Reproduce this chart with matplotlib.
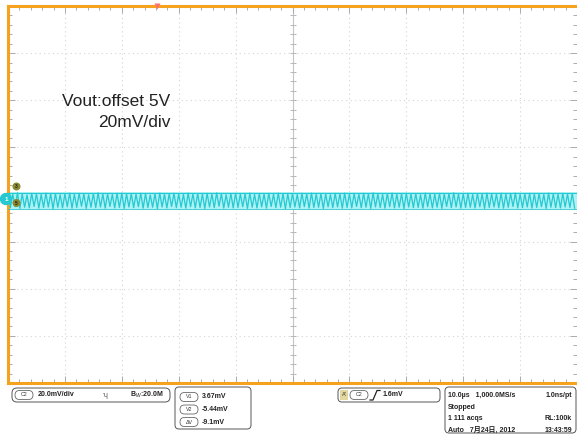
import numpy as np
import matplotlib
matplotlib.use("Agg")
import matplotlib.pyplot as plt
from matplotlib.patches import FancyBboxPatch, Rectangle, Circle

plt.rcParams['font.family'] = ['Liberation Sans', 'Noto Sans CJK SC', 'DejaVu Sans']

# screen: 10 div x 10 us, 8 div x 20 mV
t_span = 100.0
v_half = 80.0
trig_pos = 26.2

# ripple peaks / troughs per cycle (mV)
highs = [
    0.4, 0.1, 0.7, 0.2, -0.2, 0.5, 0.3, 0.0, 0.6, 0.2, 0.4, -0.1,
    0.3, 0.6, 0.1, 0.5, 0.2, -0.1, 0.4, 0.7, 0.2, 0.3, 0.0, 0.5,
    0.6, 0.2, 0.4, 0.1, 0.5, 0.3, -0.2, 0.4, 0.6, 0.1, 0.3, 0.5,
    0.2, 0.0, 0.6, 0.3, 0.4, 0.1, 0.5, 0.2, 0.7, 0.3, -0.1, 0.4,
    0.5, 0.2, 0.3, 0.6, 0.0, 0.4, 0.2, 0.5, 0.1, 0.6, 0.3, 0.2,
    0.4, 0.0, 0.5, 0.3, 0.6, 0.1, 0.4, 0.2, -0.1, 0.5, 0.3, 0.6,
    0.2, 0.4, 0.1, 0.5, 0.3, 0.7, 0.2, 0.0, 0.4, 0.6, 0.1, 0.3,
    0.5, 0.2, 0.4, -0.1, 0.6, 0.3, 0.1, 0.5, 0.2, 0.4, 0.7, 0.2,
    0.3, 0.5, 0.0, 0.4, 0.2, 0.6, 0.3, 0.1, 0.5, 0.2, 0.4, 0.6,
    0.1, 0.3, 0.5, 0.2, 0.4, 0.0, 0.6, 0.3, 0.2, 0.5, 0.1, 0.4]
lows = [
    -5.6, -5.2, -5.9, -5.4, -5.7, -5.1, -5.8, -5.5, -5.3, -6.0, -5.4, -5.7,
    -5.2, -5.8, -5.5, -5.0, -5.9, -5.4, -5.6, -5.3, -5.8, -5.1, -5.7, -5.5,
    -5.9, -5.3, -5.6, -5.2, -5.8, -5.5, -5.4, -6.0, -5.3, -5.7, -5.1, -5.6,
    -5.4, -5.8, -5.2, -5.7, -5.5, -5.9, -5.3, -5.6, -5.0, -5.8, -5.4, -5.7,
    -5.5, -5.2, -5.9, -5.4, -5.7, -5.3, -5.8, -5.1, -5.6, -5.4, -6.0, -5.5,
    -5.3, -5.7, -5.2, -5.8, -5.5, -5.4, -5.9, -5.2, -5.6, -5.3, -5.8, -5.5,
    -5.7, -5.1, -5.6, -5.4, -5.9, -5.3, -5.5, -5.8, -5.2, -5.7, -5.4, -6.0,
    -5.3, -5.6, -5.5, -5.8, -5.2, -5.7, -5.4, -5.9, -5.1, -5.6, -5.3, -5.8,
    -5.5, -5.4, -5.7, -5.2, -5.9, -5.5, -5.3, -5.6, -5.8, -5.4, -5.1, -5.7,
    -5.6, -5.3, -5.8, -5.5, -5.2, -5.9, -5.4, -5.6, -5.7, -5.3, -5.5, -5.8]
band_top = 1.1
band_bottom = -6.3

# readout panels
ch_scale = "20.0mV/div"
bw_text = "B$_W$:20.0M"
cursor_names = ["V1", "V2", "ΔV"]
cursor_vals = ["3.67mV", "-5.44mV", "-9.1mV"]
trig_level = "1.6mV"
acq_lines = [("10.0µs   1,000.0MS/s", "1.0ns/pt"),
             ("Stopped", ""),
             ("1 111 acqs", "RL:100k"),
             ("Auto   7月24日, 2012", "13:43:59")]

orange = '#f5a21e'
cyan = '#26c8d2'
grid_c = '#d4d4d4'

fig = plt.figure(figsize=(5.77, 4.43), dpi=100)
ax = fig.add_axes([8 / 577, 60 / 443, 569 / 577, 377 / 443])
ax.set_xlim(0, t_span)
ax.set_ylim(-v_half, v_half)

# graticule
for xv in np.arange(10, t_span, 10):
    if xv == 50:
        continue
    ax.axvline(xv, color=grid_c, lw=0.8, ls=(0, (1, 3)), zorder=1)
for yv in np.arange(-60, 80, 20):
    if yv == 0:
        continue
    ax.axhline(yv, color=grid_c, lw=0.8, ls=(0, (1, 3)), zorder=1)
ax.axvline(50, color='#c4c4c4', lw=0.8, zorder=1)
ax.axhline(0, color='#c4c4c4', lw=0.8, zorder=1)
xm = np.arange(2, t_span, 2)
ym = np.arange(-76, 80, 4)
ax.plot(xm, np.zeros_like(xm), ls='none', marker='|', ms=4, mew=0.7, color='#b8b8b8', zorder=1)
ax.plot(np.full_like(ym, 50.0), ym, ls='none', marker='_', ms=4, mew=0.7, color='#b8b8b8', zorder=1)

ax.set_xticks(np.arange(0, t_span + 1, 10))
ax.set_xticks(xm, minor=True)
ax.set_yticks(np.arange(-80, 81, 20))
ax.set_yticks(ym, minor=True)
ax.tick_params(which='both', direction='in', top=True, right=True,
               labelbottom=False, labelleft=False, color='#ababab', width=0.7)
ax.tick_params(which='major', length=5)
ax.tick_params(which='minor', length=3)

for s in ['top', 'left', 'bottom']:
    ax.spines[s].set_color(orange)
    ax.spines[s].set_linewidth(2.2)
ax.spines['right'].set_visible(False)

# trace
n = len(highs)
t_hi = np.linspace(0, t_span, n, endpoint=False)
t_lo = t_hi + t_span / n / 2
tt = np.empty(2 * n)
vv = np.empty(2 * n)
tt[0::2], tt[1::2] = t_hi, t_lo
vv[0::2], vv[1::2] = highs, lows
ax.fill_between([0, t_span], band_bottom, band_top, color='#aef2f4', zorder=2, lw=0)
ax.plot(tt, vv, color=cyan, lw=0.9, zorder=3)
ax.plot([0, t_span], [band_top - 0.4, band_top - 0.4], color=cyan, lw=0.8, zorder=3)
ax.plot([0, t_span], [band_bottom, band_bottom], color=cyan, lw=0.6, zorder=3)

# trigger position marker
ax.plot([trig_pos], [v_half], marker='v', ms=5, color='#ff6f6f', mec='none',
        clip_on=False, zorder=5)

ax.text(0.286, 0.719, "Vout:offset 5V\n20mV/div", transform=ax.transAxes,
        ha='right', va='center', fontsize=12.5, linespacing=1.45, color='#222222')

# overlay in pixel units for the readout widgets
ov = fig.add_axes([0, 0, 1, 1], zorder=10)
ov.set_xlim(0, 577)
ov.set_ylim(443, 0)
ov.axis('off')
ov.patch.set_alpha(0)

# channel markers at left edge
ov.add_patch(Circle((6, 199), 5.5, color=cyan, zorder=6))
ov.text(6, 199, "1", ha='center', va='center', fontsize=4.5, color='white', weight='bold', zorder=7)
for yy, lab in [(186.5, "3"), (203, "5")]:
    ov.add_patch(Circle((16.5, yy), 3.3, color='#8b8a2e', zorder=6))
    ov.text(16.5, yy, lab, ha='center', va='center', fontsize=3.5, color='#222222', weight='bold', zorder=7)

def rbox(x0, y0, w, h, r=3, ec='#555555', fc='white', lw=0.7):
    ov.add_patch(FancyBboxPatch((x0, y0), w, h, boxstyle=f"round,pad=0,rounding_size={r}",
                                ec=ec, fc=fc, lw=lw, mutation_aspect=1))

def oval(xc, yc, lab):
    rbox(xc - 9, yc - 4.5, 18, 9, r=4.5, ec='#666666', lw=0.6)
    ov.text(xc, yc, lab, ha='center', va='center', fontsize=3.8, color='#333333')

fs = 5.0
# channel box
rbox(12, 388, 158, 14, r=5)
oval(24, 395, "C2")
ov.text(38, 395, ch_scale, ha='left', va='center', fontsize=fs, weight='bold', color='#222222')
ov.text(105, 395.5, "ʮ", ha='center', va='center', fontsize=5, color='#555555')
ov.text(130, 395, bw_text, ha='left', va='center', fontsize=fs, weight='bold', color='#222222')

# cursor box
rbox(175, 387, 76, 42, r=4)
for i, (nm, val) in enumerate(zip(cursor_names, cursor_vals)):
    yc = 397 + i * 12.5
    oval(189, yc, nm)
    ov.text(202, yc, val, ha='left', va='center', fontsize=fs, weight='bold', color='#222222')

# trigger box
rbox(338, 388, 102, 14, r=4)
ov.add_patch(Rectangle((340, 390), 8, 10, color='#e3d7a0', lw=0))
ov.text(344, 395, "A'", ha='center', va='center', fontsize=4, color='#333333')
oval(359, 395, "C2")
ov.plot([370, 373, 377, 380], [400, 400, 390.5, 390.5], color='#222222', lw=0.9)
ov.text(383, 395, trig_level, ha='left', va='center', fontsize=fs, weight='bold', color='#222222')

# acquisition box
rbox(445, 387, 131, 46, r=4)
for i, (l, r) in enumerate(acq_lines):
    yc = 395.5 + i * 11.6
    ov.text(448, yc, l, ha='left', va='center', fontsize=fs, weight='bold', color='#222222')
    if r:
        ov.text(572, yc, r, ha='right', va='center', fontsize=fs, weight='bold', color='#222222')

fig.savefig("out.png", dpi=100)
